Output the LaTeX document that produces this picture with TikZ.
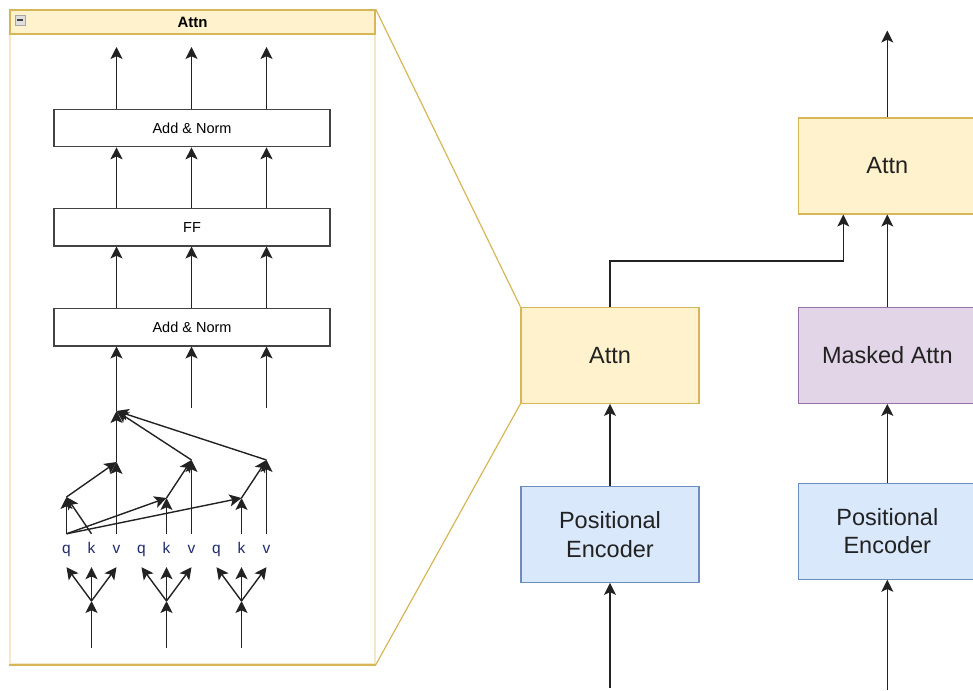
\documentclass[tikz,border=0pt]{standalone}
\usepackage{fontspec}
\setmainfont{Liberation Sans}
\usetikzlibrary{arrows.meta}

\definecolor{yfill}{HTML}{FFF2CC}
\definecolor{yline}{HTML}{D6B656}
\definecolor{yfaint}{HTML}{F5E7C8}
\definecolor{pfill}{HTML}{E1D5E7}
\definecolor{pline}{HTML}{9673A6}
\definecolor{bfill}{HTML}{DAE8FC}
\definecolor{bline}{HTML}{6C8EBF}
\definecolor{ink}{HTML}{222222}
\definecolor{qkvblue}{HTML}{1F2A6B}

\begin{document}
\begin{tikzpicture}[x=1pt,y=-1pt,
  arr/.style={draw=ink, line width=1.4pt, -{Stealth[length=12pt,width=12pt,inset=2.8pt]}},
  layer/.style={draw=ink!85, line width=1.1pt, fill=white, minimum width=276pt,
    minimum height=37.5pt, inner sep=0pt, font=\fontsize{14.5}{17}\selectfont},
  bigbox/.style={line width=1.2pt, minimum width=178pt, minimum height=96pt,
    inner sep=0pt, align=center, text=ink, font=\fontsize{23.5}{28.7}\selectfont},
  qkv/.style={minimum height=33pt, inner sep=0pt, text height=8pt, text depth=3pt,
    text=qkvblue, font=\fontsize{15.5}{17}\selectfont},
  zoomline/.style={draw=yline, line width=1.2pt},
]
\useasboundingbox (0,0) rectangle (973,690);
\clip (0,0) rectangle (973,690);

% ---------------- expanded attention block (left panel) ----------------
\node[draw=yfaint, line width=1.5pt, minimum width=365pt, minimum height=654pt,
      inner sep=0pt] (panel) at (192.5,337) {};
\draw[draw=yline, line width=1.5pt] (panel.south west) -- (panel.south east);
\node[draw=yline, fill=yfill, line width=1.1pt, minimum width=365pt,
      minimum height=24pt, inner sep=0pt,
      font=\fontsize{15}{17}\selectfont\bfseries] (hdr) at (192.5,22) {Attn};
\node[draw=gray!70, fill=gray!25, line width=0.8pt, minimum size=10pt,
      inner sep=0pt] (fold) at (20,20) {};
\draw[line width=1.6pt, draw=black!75] ([xshift=2.5pt]fold.west) -- ([xshift=-2.5pt]fold.east);

% layers
\node[layer] (an2) at (192,128) {Add \& Norm};
\node[layer] (ff)  at (192,227.2) {FF};
\node[layer] (an1) at (192,327.2) {Add \& Norm};

% q k v labels
\foreach \g/\x in {1/66.5, 2/141.5, 3/216.5}{
  \node[qkv] (q\g) at (\x,550.5) {q};
  \node[qkv] (k\g) at (\x+25,550.5) {k};
  \node[qkv] (v\g) at (\x+50,550.5) {v};
}

% input fan-out into q, k, v
\foreach \g/\x in {1/91.5, 2/166.5, 3/241.5}{
  \coordinate (in\g) at (\x,648);
  \coordinate (b\g) at (\x,601);
  \draw[arr] (in\g) -- (b\g);
  \draw[arr] (b\g) -- (q\g.south);
  \draw[arr] (b\g) -- (k\g.south);
  \draw[arr] (b\g) -- (v\g.south);
}

% score and weighting points
\coordinate (s1) at (66.5,497);
\coordinate (s2) at (166.5,498);
\coordinate (s3) at (241.5,498);
\coordinate (m1) at (116.5,462);
\coordinate (m2) at (191.5,460);
\coordinate (m3) at (266.5,460);
\coordinate (o)  at (116.5,411);
\coordinate (c2) at (191.5,408);
\coordinate (c3) at (266.5,408);

% query against every key
\draw[arr] (q1.north) -- (s1);
\draw[arr] (k1.north) -- (s1);
\draw[arr] (q1.north) -- (s2);
\draw[arr] (q1.north) -- (s3);
\draw[arr] (k2.north) -- (s2);
\draw[arr] (k3.north) -- (s3);

% scores applied to values
\draw[arr] (s1) -- (m1);
\draw[arr] (s2) -- (m2);
\draw[arr] (s3) -- (m3);
\draw[arr] (v1.north) -- (m1);
\draw[arr] (v2.north) -- (m2);
\draw[arr] (v3.north) -- (m3);

% sum of weighted values
\draw[arr] (m1) -- (o);
\draw[arr] (m2) -- (o);
\draw[arr] (m3) -- (o);

% into the first Add & Norm
\draw[arr] (o) -- (o |- an1.south);
\draw[arr] (c2) -- (c2 |- an1.south);
\draw[arr] (c3) -- (c3 |- an1.south);

% between layers and out of the block
\foreach \x in {116.5,191.5,266.5}{
  \draw[arr] (\x,0 |- an1.north) -- (\x,0 |- ff.south);
  \draw[arr] (\x,0 |- ff.north) -- (\x,0 |- an2.south);
  \coordinate (top) at (\x,47);
  \draw[arr] (\x,0 |- an2.north) -- (top);
}

% ---------------- encoder / decoder overview (right) ----------------
\node[bigbox, draw=yline, fill=yfill] (attA) at (610,355.3) {Attn};
\node[bigbox, draw=bline, fill=bfill] (peA) at (610,534.3) {Positional\\Encoder};
\node[bigbox, draw=pline, fill=pfill] (mA) at (887.3,355.3) {Masked Attn};
\node[bigbox, draw=bline, fill=bfill] (peB) at (887.3,531.2) {Positional\\Encoder};
\node[bigbox, draw=yline, fill=yfill] (topA) at (887.3,165.9) {Attn};

\coordinate (inA) at (610,688);
\coordinate (inB) at (887.3,690);
\coordinate (outB) at (887.3,30.5);
\coordinate (elbow) at (843.3,261);

\draw[arr] (inA) -- (peA.south);
\draw[arr] (peA.north) -- (attA.south);
\draw[arr] (attA.north) |- (elbow) -- (elbow |- topA.south);
\draw[arr] (inB) -- (peB.south);
\draw[arr] (peB.north) -- (mA.south);
\draw[arr] (mA.north) -- (topA.south);
\draw[arr] (topA.north) -- (outB);

% zoom guides from the panel to the encoder attention box
\draw[zoomline] (panel.north east) -- (attA.north west);
\draw[zoomline] (panel.south east) -- (attA.south west);
\end{tikzpicture}
\end{document}
